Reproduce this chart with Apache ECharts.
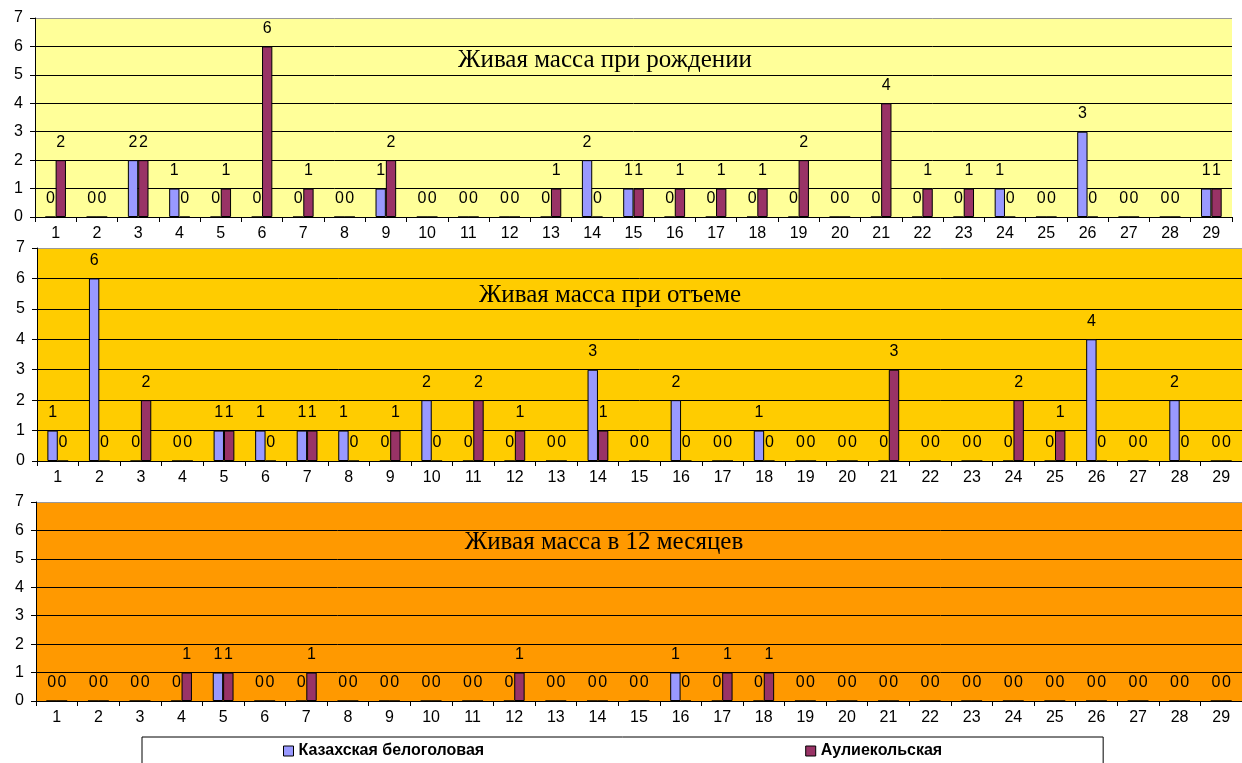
<!DOCTYPE html>
<html><head><meta charset="utf-8">
<script src="https://cdn.jsdelivr.net/npm/echarts@6/dist/echarts.min.js"></script>
<style>html,body{margin:0;padding:0;background:#fff}#c{width:1242px;height:763px}</style>
</head><body><div id="c"></div>
<script>
const categories = ['1','2','3','4','5','6','7','8','9','10','11','12','13','14','15','16','17','18','19','20','21','22','23','24','25','26','27','28','29'];
const seriesNames = ['Казахская белоголовая', 'Аулиекольская'];
const panelTitles = ['Живая масса при рождении', 'Живая масса при отъеме', 'Живая масса в 12 месяцев'];
const yTicks = [0, 7, 1];
const birthKaz = [0,0,2,1,0,0,0,0,1,0,0,0,0,2,1,0,0,0,0,0,0,0,0,1,0,3,0,0,1];
const birthAul = [2,0,2,0,1,6,1,0,2,0,0,0,1,0,1,1,1,1,2,0,4,1,1,0,0,0,0,0,1];
const weanKaz  = [1,6,0,0,1,1,1,1,0,2,0,0,0,3,0,2,0,1,0,0,0,0,0,0,0,4,0,2,0];
const weanAul  = [0,0,2,0,1,0,1,0,1,0,2,1,0,1,0,0,0,0,0,0,3,0,0,2,1,0,0,0,0];
const yearKaz  = [0,0,0,0,1,0,0,0,0,0,0,0,0,0,0,1,0,0,0,0,0,0,0,0,0,0,0,0,0];
const yearAul  = [0,0,0,1,1,0,1,0,0,0,0,1,0,0,0,0,1,1,0,0,0,0,0,0,0,0,0,0,0];

const panels = [
  {kaz: birthKaz, aul: birthAul, bg: '#FFFF99', grid: {left: 35, top: 18, width: 1197, height: 199}, title: {left: 600, top: 43}},
  {kaz: weanKaz,  aul: weanAul,  bg: '#FFCC00', grid: {left: 37, top: 248, width: 1209, height: 213}, title: {left: 605, top: 278}},
  {kaz: yearKaz,  aul: yearAul,  bg: '#FF9900', grid: {left: 36, top: 502, width: 1207, height: 199}, title: {left: 599, top: 525}}
];
const colors = ['#9999FF', '#993366'];
const font = 'Liberation Sans, Arial, sans-serif';

const option = {
  animation: false,
  textStyle: {fontFamily: font},
  title: panels.map((p, i) => ({
    text: panelTitles[i], left: p.title.left, top: p.title.top, textAlign: 'center',
    textStyle: {fontFamily: 'Liberation Serif, Times New Roman, serif', fontSize: 25, fontWeight: 'normal', color: '#000'}
  })),
  legend: {
    data: seriesNames, left: 142, top: 737, itemWidth: 10, itemHeight: 10, itemGap: 321,
    padding: [6, 161, 20, 141], borderColor: '#000', borderWidth: 1, backgroundColor: '#fff',
    icon: 'rect', itemStyle: {borderColor: '#000', borderWidth: 1},
    textStyle: {fontFamily: font, fontSize: 16, fontWeight: 'bold', color: '#000'}
  },
  grid: panels.map(p => Object.assign({show: true, backgroundColor: p.bg, borderWidth: 0, containLabel: false}, p.grid)),
  xAxis: panels.map((p, i) => ({
    type: 'category', gridIndex: i, data: categories, boundaryGap: true,
    axisLine: {lineStyle: {color: '#000', width: 1}},
    axisTick: {show: true, length: 5, lineStyle: {color: '#000'}},
    axisLabel: {color: '#000', fontSize: 16, margin: 9, fontFamily: font, interval: 0}
  })),
  yAxis: panels.map((p, i) => ({
    type: 'value', gridIndex: i, min: yTicks[0], max: yTicks[1], interval: yTicks[2],
    axisLine: {show: true, lineStyle: {color: '#000', width: 1}},
    axisTick: {show: true, length: 5, lineStyle: {color: '#000'}},
    axisLabel: {color: '#000', fontSize: 16, margin: 12, fontFamily: font},
    splitLine: {show: true, lineStyle: {color: ['#000','#000','#000','#000','#000','#000','#000','#999'], width: 1}}
  })),
  series: []
};
panels.forEach((p, i) => {
  [p.kaz, p.aul].forEach((vals, j) => {
    option.series.push({
      type: 'bar', name: seriesNames[j], xAxisIndex: i, yAxisIndex: i, data: vals,
      barWidth: '25%', barGap: '0%',
      itemStyle: {color: colors[j], borderColor: '#000', borderWidth: 1},
      label: {show: true, position: 'top', distance: 10, color: '#000', fontSize: 16, fontFamily: font}
    });
  });
});
const chart = echarts.init(document.getElementById('c'), null, {renderer: 'canvas'});
chart.setOption(option);
</script></body></html>
